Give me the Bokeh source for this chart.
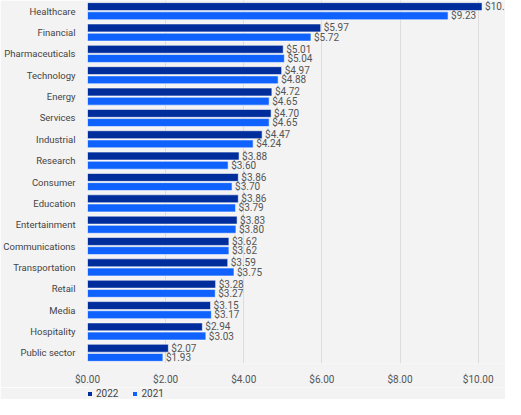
from bokeh.plotting import figure
from bokeh.layouts import column
from bokeh.models import (ColumnDataSource, Legend, LegendItem, FactorRange, NumeralTickFormatter,
                          FixedTicker, Range1d, LabelSet)
from bokeh.transform import dodge
from bokeh.embed import file_html
from bokeh.resources import INLINE
from bokeh.core.properties import value

categories = ["Healthcare", "Financial", "Pharmaceuticals", "Technology", "Energy", "Services",
              "Industrial", "Research", "Consumer", "Education", "Entertainment", "Communications",
              "Transportation", "Retail", "Media", "Hospitality", "Public sector"]
values_2022 = [10.10, 5.97, 5.01, 4.97, 4.72, 4.70, 4.47, 3.88, 3.86, 3.86, 3.83, 3.62, 3.59, 3.28, 3.15, 2.94, 2.07]
values_2021 = [9.23, 5.72, 5.04, 4.88, 4.65, 4.65, 4.24, 3.60, 3.70, 3.79, 3.80, 3.62, 3.75, 3.27, 3.17, 3.03, 1.93]
x_ticks = [0, 2, 4, 6, 8, 10]
series_names = ["2022", "2021"]

C22 = "#002d9c"
C21 = "#0f62fe"
BG = "#f3f3f3"
FONT = "Roboto"
FS = "10px"
FS_CAT = "9.5px"

src = ColumnDataSource(dict(
    cat=categories,
    v22=values_2022,
    v21=values_2021,
    l22=["$%.2f" % v for v in values_2022],
    l21=["$%.2f" % v for v in values_2021],
))

p = figure(width=505, height=387, output_backend="svg", toolbar_location=None,
           y_range=FactorRange(factors=list(reversed(categories)), range_padding=0),
           x_range=Range1d(0, 10.7),
           min_border_left=78, min_border_right=0, min_border_top=0, min_border_bottom=18)
p.background_fill_color = BG
p.border_fill_color = BG
p.outline_line_color = None

bh = 0.37
off = 0.215
r22 = p.hbar(y=dodge("cat", off, range=p.y_range), right="v22", left=0, height=bh, source=src,
             fill_color=C22, line_color="white", line_alpha=0.55, line_width=1)
r21 = p.hbar(y=dodge("cat", -off, range=p.y_range), right="v21", left=0, height=bh, source=src,
             fill_color=C21, line_color="white", line_alpha=0.55, line_width=1)

lab22 = LabelSet(x="v22", y=dodge("cat", off, range=p.y_range), text="l22", source=src, x_offset=3,
                 text_baseline="middle", text_align="left", text_font=value(FONT),
                 text_font_size=value(FS), text_color=value("#555555"))
lab21 = LabelSet(x="v21", y=dodge("cat", -off, range=p.y_range), text="l21", source=src, x_offset=3,
                 text_baseline="middle", text_align="left", text_font=value(FONT),
                 text_font_size=value(FS), text_color=value("#555555"))
p.add_layout(lab22)
p.add_layout(lab21)

p.xaxis.ticker = FixedTicker(ticks=x_ticks)
p.xaxis.formatter = NumeralTickFormatter(format="$0.00")
p.xaxis.axis_line_color = None
p.xaxis.major_tick_line_color = None
p.xaxis.minor_tick_line_color = None
p.xaxis.major_label_standoff = 4
p.xaxis.major_label_text_font = FONT
p.xaxis.major_label_text_font_size = FS
p.xaxis.major_label_text_color = "#555555"

p.yaxis.axis_line_color = None
p.yaxis.major_tick_line_color = None
p.yaxis.minor_tick_line_color = None
p.yaxis.major_label_standoff = 6
p.yaxis.major_label_text_font = FONT
p.yaxis.major_label_text_font_size = FS_CAT
p.yaxis.major_label_text_color = "#444444"

p.ygrid.grid_line_color = None
p.xgrid.grid_line_color = "#dddddd"
p.xgrid.grid_line_width = 1

# legend strip below the chart (its bars lie outside its frame, only the legend shows)
pl = figure(width=505, height=12, output_backend="svg", toolbar_location=None,
            x_range=Range1d(-2, -1), y_range=FactorRange(factors=categories),
            min_border_left=78, min_border_right=0, min_border_top=0, min_border_bottom=0)
pl.background_fill_color = BG
pl.border_fill_color = BG
pl.outline_line_color = None
pl.axis.visible = False
pl.grid.visible = False
d22 = pl.hbar(y="cat", right="v22", left=0, height=0.5, source=src, fill_color=C22, line_color=None)
d21 = pl.hbar(y="cat", right="v21", left=0, height=0.5, source=src, fill_color=C21, line_color=None)
legend = Legend(items=[LegendItem(label=series_names[0], renderers=[d22]),
                       LegendItem(label=series_names[1], renderers=[d21])],
                orientation="horizontal", location=(0, 0),
                background_fill_alpha=0, border_line_color=None,
                glyph_width=5, glyph_height=5, label_standoff=4, spacing=14,
                padding=0, margin=0, label_text_font=FONT, label_text_font_size=FS,
                label_text_color="#444444", label_height=12)
pl.add_layout(legend)

layout = column(p, pl, spacing=0)
open("out.html", "w").write(file_html(layout, INLINE))
